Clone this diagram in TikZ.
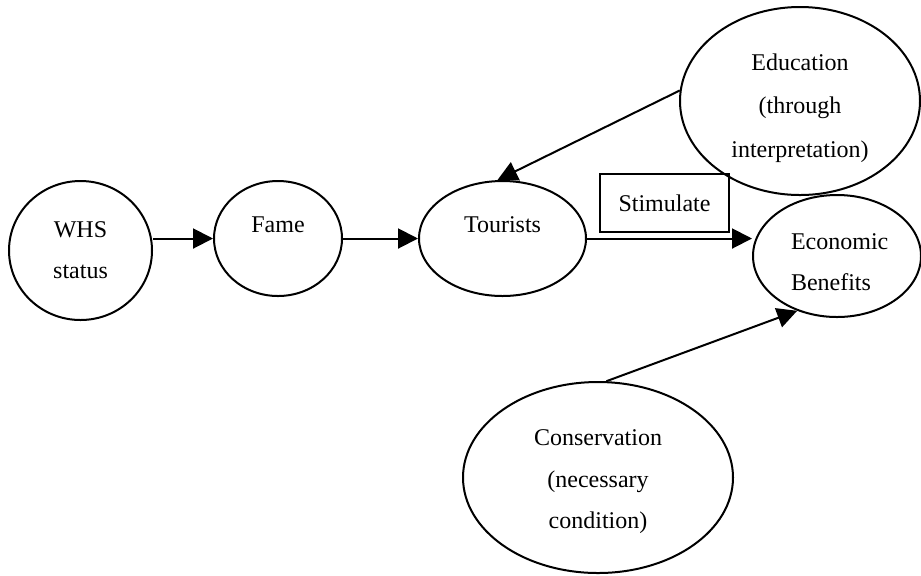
\documentclass[tikz,border=0pt]{standalone}
\usepackage{fontspec}
\setmainfont{Liberation Serif}
\usetikzlibrary{shapes.geometric,arrows.meta}
\begin{document}
\begin{tikzpicture}[x=0.5pt,y=-0.5pt,line width=1pt,>={Triangle[length=10pt,width=10pt]},
		lbl/.style={font=\fontsize{12}{20.75}\selectfont,align=center,inner sep=0pt}]
		%%
	\useasboundingbox (0,0) rectangle (921,575);
	\node (WHS) at (80.5,250.5) [draw,ellipse,inner sep=0pt,minimum width=71.5pt,minimum height=69.5pt] {};
  \node (Fame) at (278,238.5) [draw,ellipse,inner sep=0pt,minimum width=64pt,minimum height=57.5pt] {};
  \node (Tourists) at (502.5,238.5) [draw,ellipse,inner sep=0pt,minimum width=83.5pt,minimum height=57.5pt] {};
  \node (Econ) at (837,256) [draw,ellipse,inner sep=0pt,minimum width=84pt,minimum height=61pt] {};
  \node (Edu) at (800,101) [draw,ellipse,inner sep=0pt,minimum width=120pt,minimum height=94pt] {};
  \node (Cons) at (598,477.5) [draw,ellipse,inner sep=0pt,minimum width=135pt,minimum height=95.5pt] {};
  \node (Stim) at (664.5,203) [draw,rectangle,inner sep=0pt,minimum width=64.5pt,minimum height=29pt,lbl] {Stimulate};
  \node (WHS-t) at (80.5,250) [lbl] {WHS\\status};
  \node (Fame-t) at (278,225) [lbl] {Fame};
  \node (Tourists-t) at (502.5,225) [lbl] {Tourists};
  \node (Econ-t) at (790,262) [lbl,align=left,anchor=west] {Economic\\Benefits};
  \node (Edu-t) at (800,108) [lbl,font=\fontsize{12}{21.75}\selectfont] {Education\\(through\\interpretation)};
  \node (Cons-t) at (598,482) [lbl] {Conservation\\(necessary\\condition)};
  \draw [->] (WHS.east |- Fame.west) -- (Fame.west);
  \draw [->] (Fame) -- (Tourists);
  \draw [->] (Tourists.east) -- (Tourists.east -| Econ.west);
  \draw [->] (Edu.175) -- (Tourists.95);
  \draw [->] (Cons.85) -- (Econ.234);
		%
	\end{tikzpicture}
\end{document}
